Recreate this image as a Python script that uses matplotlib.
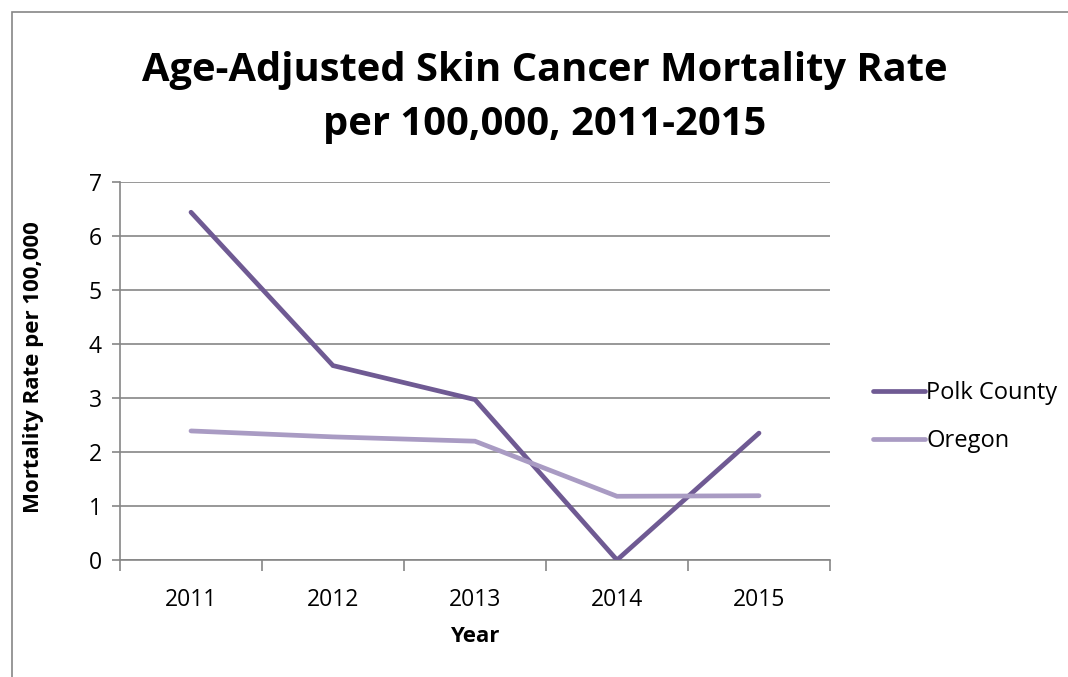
import matplotlib.pyplot as plt
from matplotlib.patches import Rectangle

# Data
years = ['2011', '2012', '2013', '2014', '2015']
polk = [6.44, 3.6, 2.97, 0.0, 2.35]
oregon = [2.39, 2.28, 2.2, 1.18, 1.19]

plt.rcParams['font.family'] = ['Open Sans', 'DejaVu Sans']

W, H = 1068, 677
fig = plt.figure(figsize=(W / 100, H / 100), dpi=100)

# outer chart frame
fig.patches.append(Rectangle((12 / W, -0.05), 1.2, 1 - 12 / H + 0.05,
                             transform=fig.transFigure, fill=False,
                             edgecolor='#868686', linewidth=1.2))

ax = fig.add_axes([120 / W, 1 - 560 / H, (830 - 120) / W, (560 - 182) / H])

x = range(len(years))
ax.plot(x, polk, color='#6F5A93', linewidth=3.4, solid_capstyle='round',
        solid_joinstyle='miter', label='Polk County', zorder=3)
ax.plot(x, oregon, color='#A99BC3', linewidth=3.4, solid_capstyle='round',
        solid_joinstyle='miter', label='Oregon', zorder=3)

ax.set_xlim(-0.5, 4.5)
ax.set_ylim(0, 7)
ax.set_yticks(range(8))
ax.set_xticks([i - 0.5 for i in range(6)])
ax.set_xticklabels([])
ax.set_xticks(list(x), minor=True)
ax.set_xticklabels(years, minor=True, fontsize=16.5)
ax.tick_params(axis='x', which='minor', length=0, pad=20)
ax.tick_params(axis='x', which='major', length=8, color='#868686', width=1.2)
ax.tick_params(axis='y', length=6, color='#868686', width=1.2, labelsize=16.5, pad=7)

ax.grid(axis='y', color='#868686', linewidth=1.2)
ax.set_axisbelow(True)
for s in ['top', 'right']:
    ax.spines[s].set_visible(False)
for s in ['left', 'bottom']:
    ax.spines[s].set_color('#868686')
    ax.spines[s].set_linewidth(1.2)

ax.set_xlabel('Year', fontsize=16, fontweight='bold')
ax.set_ylabel('Mortality Rate per 100,000', fontsize=16, fontweight='bold')
ax.yaxis.set_label_coords(-0.107, 0.51)
ax.xaxis.set_label_coords(0.5, -0.175)

fig.text(545 / W, 1 - 97 / H, 'Age-Adjusted Skin Cancer Mortality Rate\nper 100,000, 2011-2015',
         ha='center', va='center', fontsize=28.7, fontweight='bold', linespacing=1.5)

ax.legend(loc='center left', bbox_to_anchor=(1.031, 0.378), frameon=False,
          fontsize=17, handlelength=2.2, handletextpad=0.05, labelspacing=1.0)

fig.savefig('out.png', dpi=100)
